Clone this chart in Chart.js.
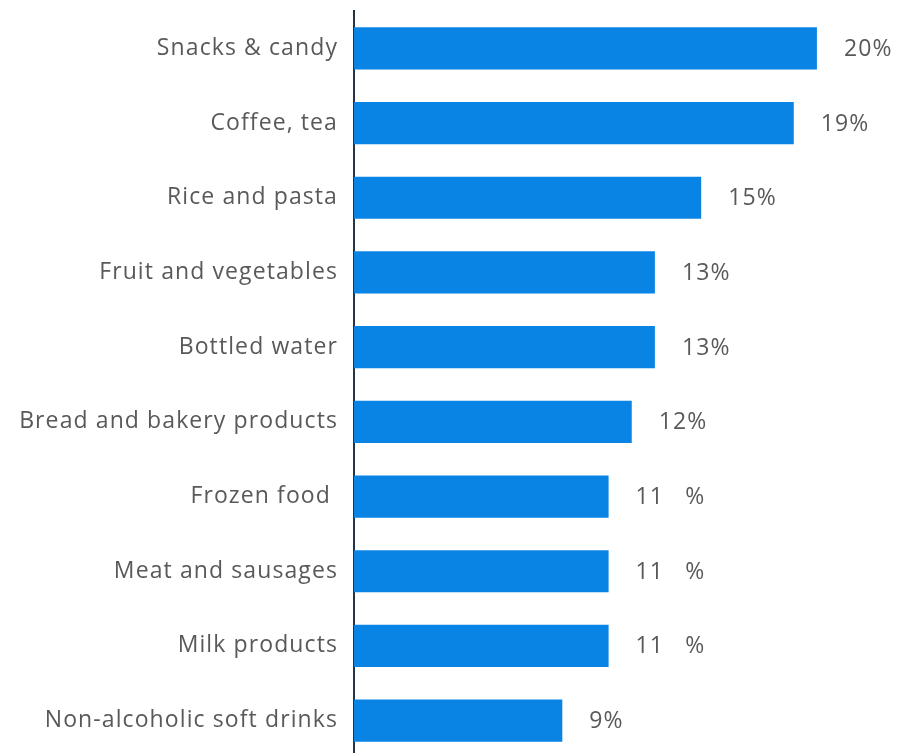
<!DOCTYPE html>
<html>
<head>
<meta charset="utf-8">
<script src="https://cdn.jsdelivr.net/npm/chart.js@4"></script>
<style>
  html, body { margin: 0; padding: 0; background: #fff; overflow: hidden; }
  #wrap { position: relative; width: 897px; height: 758px; }
</style>
</head>
<body>
<div id="wrap"><canvas id="grafica"></canvas></div>
<script>
// categorias y valores (%)
const categorias = ['Snacks & candy', 'Coffee, tea', 'Rice and pasta', 'Fruit and vegetables', 'Bottled water',
    'Bread and bakery products', 'Frozen food ', 'Meat and sausages', 'Milk products', 'Non-alcoholic soft drinks'];
const valores = [20, 19, 15, 13, 13, 12, 11, 11, 11, 9];
const etiquetas = ['20%', '19%', '15%', '13%', '13%', '12%', '11   %', '11   %', '11   %', '9%'];

const fuente = "'Open Sans', sans-serif";
const gris = '#595959';
const espaciado = '1.1px';

// texto un poco espaciado en todo el lienzo
const espaciadoTexto = {
    id: 'espaciadoTexto',
    beforeDraw(chart) {
        chart.ctx.letterSpacing = espaciado;
    }
};

// dibuja el porcentaje al final de cada barra
const etiquetasBarras = {
    id: 'etiquetasBarras',
    afterDatasetsDraw(chart) {
        const ctx = chart.ctx;
        const meta = chart.getDatasetMeta(0);
        ctx.save();
        ctx.letterSpacing = espaciado;
        ctx.font = '23px ' + fuente;
        ctx.fillStyle = gris;
        ctx.textAlign = 'left';
        ctx.textBaseline = 'middle';
        meta.data.forEach((bar, i) => {
            ctx.fillText(etiquetas[i], bar.x + 27, bar.y + 1);
        });
        ctx.restore();
    }
};

const ctx = document.getElementById('grafica').getContext('2d');
new Chart(ctx, {
    type: 'bar',
    data: {
        labels: categorias,
        datasets: [{
            data: valores,
            backgroundColor: '#0a84e4',
            borderWidth: 0,
            categoryPercentage: 1,
            barPercentage: 0.565
        }]
    },
    options: {
        indexAxis: 'y',
        responsive: true,
        maintainAspectRatio: false,
        animation: false,
        layout: { padding: { top: 11, right: 0, bottom: 0, left: 0 } },
        plugins: {
            legend: { display: false },
            tooltip: { enabled: false }
        },
        scales: {
            x: {
                display: false,
                min: 0,
                max: 23.46
            },
            y: {
                afterFit: (escala) => {
                    escala.width = 354;
                    escala.paddingTop = 0;
                    escala.paddingBottom = 0;
                },
                grid: { display: false, drawTicks: false },
                border: { display: true, color: '#243447', width: 2 },
                ticks: {
                    padding: 16,
                    color: gris,
                    font: { family: fuente, size: 23 }
                }
            }
        }
    },
    plugins: [espaciadoTexto, etiquetasBarras]
});
</script>
</body>
</html>
